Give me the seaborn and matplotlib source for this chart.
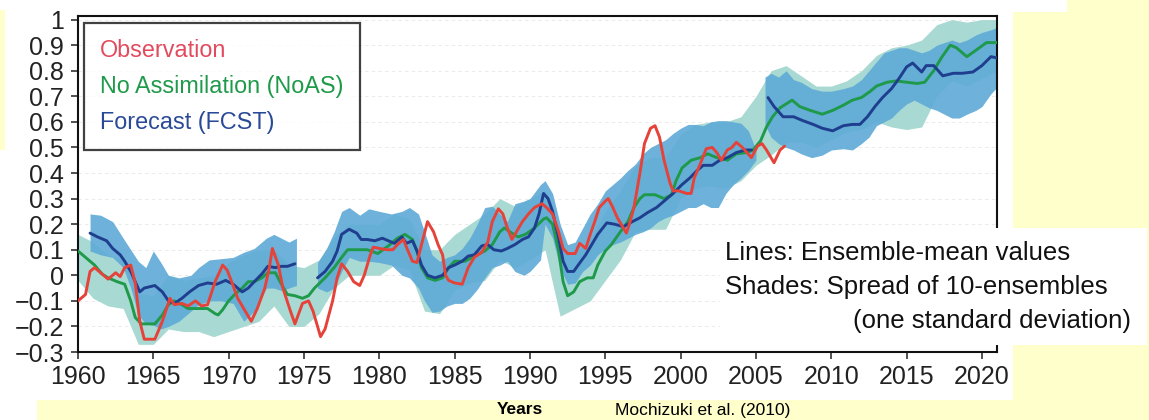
import numpy as np
import pandas as pd
import matplotlib
matplotlib.use("Agg")
import matplotlib.pyplot as plt
from matplotlib.patches import Rectangle
from matplotlib.lines import Line2D
import seaborn as sns

# ---------------- data ----------------
obs_years = [1960.0, 1960.5, 1960.8, 1961.1, 1961.6, 1962.0, 1962.5, 1962.8, 1963.1, 1963.5,
             1963.8, 1964.1, 1964.4, 1965.1, 1965.6, 1966.1, 1966.4, 1966.9, 1967.3, 1967.8,
             1968.2, 1968.6, 1969.1, 1969.6, 1969.9, 1970.2, 1970.6, 1971.1, 1971.5, 1971.9,
             1972.4, 1972.7, 1972.9, 1973.3, 1973.6, 1974.1, 1974.4, 1974.9, 1975.3, 1975.6,
             1976.1, 1976.4, 1976.9, 1977.2, 1977.5, 1977.9, 1978.3, 1978.7, 1979.0, 1979.4,
             1979.6, 1980.0, 1980.5, 1980.9, 1981.2, 1981.6, 1981.8, 1982.2, 1982.5, 1982.8,
             1983.2, 1983.6, 1983.9, 1984.2, 1984.4, 1984.6, 1985.0, 1985.5, 1985.9, 1986.3,
             1986.8, 1987.2, 1987.5, 1987.9, 1988.2, 1988.5, 1988.8, 1989.0, 1989.5, 1989.9,
             1990.3, 1990.8, 1991.1, 1991.5, 1991.9, 1992.2, 1992.5, 1993.0, 1993.3, 1993.7,
             1994.0, 1994.3, 1994.6, 1995.0, 1995.2, 1995.5, 1995.8, 1996.2, 1996.4, 1996.6,
             1996.9, 1997.3, 1997.6, 1998.0, 1998.3, 1998.6, 1998.9, 1999.3, 1999.5, 1999.9,
             2000.4, 2000.7, 2000.9, 2001.3, 2001.7, 2002.1, 2002.4, 2002.7, 2003.1, 2003.4,
             2003.7, 2004.1, 2004.4, 2004.7, 2005.1, 2005.4, 2005.7, 2006.2, 2006.6, 2006.9]
obs_vals = [-0.10, -0.075, 0.015, 0.03, 0.005, -0.015, 0.01, -0.005, 0.03, 0.04,
            -0.03, -0.18, -0.25, -0.25, -0.18, -0.09, -0.115, -0.11, -0.12, -0.10,
            -0.12, -0.115, -0.025, 0.04, 0.02, -0.025, -0.09, -0.14, -0.18, -0.13,
            -0.05, 0.03, 0.105, 0.04, -0.05, -0.14, -0.19, -0.11, -0.10, -0.14,
            -0.24, -0.21, -0.10, -0.01, 0.045, 0.015, -0.025, -0.04, 0.0, 0.08,
            0.11, 0.105, 0.10, 0.10, 0.12, 0.14, 0.11, 0.055, 0.05, 0.12,
            0.21, 0.17, 0.12, 0.08, 0.0, -0.02, -0.03, -0.035, 0.03, 0.07,
            0.09, 0.13, 0.21, 0.26, 0.24, 0.185, 0.14, 0.16, 0.21, 0.24,
            0.265, 0.28, 0.265, 0.24, 0.17, 0.105, 0.085, 0.085, 0.125, 0.105,
            0.16, 0.21, 0.265, 0.29, 0.30, 0.265, 0.225, 0.185, 0.165, 0.20,
            0.265, 0.40, 0.515, 0.575, 0.585, 0.54, 0.45, 0.36, 0.33, 0.33,
            0.32, 0.32, 0.38, 0.435, 0.495, 0.50, 0.48, 0.45, 0.49, 0.50,
            0.52, 0.50, 0.48, 0.46, 0.505, 0.515, 0.49, 0.44, 0.49, 0.505]

noas_years = [1960.0, 1960.5, 1961.1, 1961.6, 1962.0, 1962.6, 1963.1, 1963.5, 1963.8, 1964.2,
              1964.7, 1965.1, 1965.6, 1966.0, 1966.4, 1966.9, 1967.3, 1967.8, 1968.2, 1968.6,
              1969.1, 1969.3, 1969.6, 1970.0, 1970.4, 1970.9, 1971.3, 1971.7, 1972.2, 1972.6,
              1973.1, 1973.5, 1973.9, 1974.4, 1974.9, 1975.3, 1975.7, 1976.4, 1977.0, 1977.5,
              1977.9, 1978.6, 1979.2, 1979.9, 1980.6, 1981.2, 1981.7, 1982.2, 1982.5, 1982.8,
              1983.2, 1983.7, 1984.2, 1984.6, 1985.0, 1985.7, 1986.3, 1987.0, 1987.5, 1988.0,
              1988.3, 1988.8, 1989.2, 1989.7, 1990.3, 1990.9, 1991.1, 1991.5, 1991.9, 1992.2,
              1992.5, 1992.9, 1993.3, 1993.8, 1994.2, 1994.5, 1995.0, 1995.4, 1996.0, 1996.5,
              1996.9, 1997.3, 1997.6, 1998.3, 1998.9, 1999.4, 1999.7, 2000.1, 2000.7, 2001.3,
              2001.8, 2002.4, 2003.1, 2003.7, 2004.4, 2004.8, 2005.3, 2005.7, 2006.1, 2006.6,
              2007.4, 2007.9, 2008.6, 2009.4, 2010.1, 2010.8, 2011.4, 2012.0, 2012.6, 2013.0,
              2013.7, 2014.3, 2015.0, 2015.7, 2016.2, 2016.8, 2017.3, 2017.9, 2018.3, 2019.0,
              2019.6, 2020.3, 2021.0]
noas_vals = [0.095, 0.07, 0.04, 0.005, -0.01, -0.025, -0.035, -0.10, -0.165, -0.19,
             -0.19, -0.19, -0.155, -0.115, -0.10, -0.115, -0.13, -0.13, -0.13, -0.13,
             -0.15, -0.155, -0.135, -0.10, -0.075, -0.05, -0.025, -0.025, -0.01, 0.01,
             0.01, -0.035, -0.075, -0.08, -0.09, -0.08, -0.05, -0.01, 0.03, 0.07,
             0.10, 0.10, 0.10, 0.085, 0.115, 0.145, 0.16, 0.14, 0.095, 0.03,
             -0.01, -0.02, -0.01, 0.03, 0.055, 0.055, 0.075, 0.095, 0.12, 0.17,
             0.185, 0.165, 0.15, 0.16, 0.185, 0.22, 0.225, 0.20, 0.095, -0.025,
             -0.08, -0.065, -0.025, -0.01, -0.01, 0.04, 0.095, 0.12, 0.17, 0.21,
             0.265, 0.30, 0.315, 0.315, 0.30, 0.315, 0.37, 0.42, 0.45, 0.46,
             0.475, 0.46, 0.45, 0.475, 0.48, 0.49, 0.525, 0.58, 0.62, 0.655,
             0.685, 0.66, 0.645, 0.63, 0.645, 0.665, 0.685, 0.695, 0.72, 0.74,
             0.755, 0.76, 0.755, 0.75, 0.755, 0.80, 0.85, 0.90, 0.89, 0.855,
             0.88, 0.91, 0.91]

# Forecast (FCST) comes in three separate segments
fcst1_years = [1960.8, 1961.3, 1961.9, 1962.3, 1962.8, 1963.1, 1963.5, 1963.8, 1964.1, 1964.4,
               1965.1, 1965.6, 1966.0, 1966.4, 1966.9, 1967.4, 1968.0, 1968.6, 1969.2, 1969.8,
               1970.3, 1970.9, 1971.3, 1971.7, 1972.2, 1972.6, 1973.1, 1973.5, 1973.9, 1974.4]
fcst1_vals = [0.165, 0.15, 0.135, 0.105, 0.08, 0.055, 0.015, -0.025, -0.065, -0.05,
              -0.04, -0.065, -0.10, -0.11, -0.09, -0.065, -0.04, -0.03, -0.035, -0.02,
              -0.035, -0.065, -0.05, -0.025, 0.005, 0.035, 0.03, 0.035, 0.035, 0.045]
fcst2_years = [1975.9, 1976.4, 1976.9, 1977.2, 1977.5, 1978.0, 1978.5, 1978.8, 1979.2, 1979.7,
               1980.2, 1980.6, 1981.0, 1981.5, 1981.8, 1982.2, 1982.5, 1982.8, 1983.2, 1983.7,
               1984.2, 1984.6, 1985.0, 1985.5, 1985.9, 1986.3, 1986.8, 1987.2, 1987.6, 1988.1,
               1988.5, 1989.0, 1989.5, 1989.9, 1990.3, 1990.6, 1990.9, 1991.2, 1991.5, 1991.9,
               1992.2, 1992.5, 1992.9, 1993.2, 1993.7, 1994.1, 1994.5, 1995.1, 1995.6, 1996.2,
               1996.8, 1997.3, 1997.8, 1998.4, 1998.9, 1999.5, 2000.1, 2000.6, 2001.1, 2001.5,
               2002.1, 2002.6, 2003.1, 2003.7, 2004.3, 2004.7]
fcst2_vals = [-0.01, 0.015, 0.055, 0.095, 0.16, 0.18, 0.165, 0.14, 0.14, 0.135,
              0.145, 0.135, 0.125, 0.15, 0.125, 0.135, 0.095, 0.04, 0.0, -0.01,
              0.0, 0.03, 0.04, 0.055, 0.075, 0.08, 0.115, 0.12, 0.10, 0.095,
              0.105, 0.12, 0.14, 0.15, 0.185, 0.24, 0.32, 0.30, 0.25, 0.145,
              0.055, 0.015, 0.015, 0.04, 0.08, 0.12, 0.16, 0.205, 0.20, 0.19,
              0.21, 0.225, 0.245, 0.265, 0.29, 0.32, 0.355, 0.38, 0.41, 0.43,
              0.43, 0.45, 0.46, 0.48, 0.49, 0.49]
fcst3_years = [2005.8, 2006.2, 2006.8, 2007.5, 2008.1, 2008.8, 2009.4, 2010.1, 2010.8, 2011.4,
               2011.9, 2012.4, 2012.9, 2013.4, 2014.0, 2014.5, 2015.0, 2015.4, 2016.0, 2016.3,
               2016.8, 2017.1, 2017.4, 2018.1, 2018.7, 2019.4, 2020.0, 2020.6, 2021.0]
fcst3_vals = [0.695, 0.66, 0.62, 0.62, 0.605, 0.59, 0.575, 0.565, 0.585, 0.59,
              0.59, 0.62, 0.66, 0.695, 0.73, 0.77, 0.815, 0.83, 0.795, 0.82,
              0.82, 0.80, 0.78, 0.79, 0.79, 0.795, 0.82, 0.855, 0.85]

# FCST ensemble spread (one standard deviation band), per segment
sp1_years = [1960.8, 1961.5, 1962.3, 1963.0, 1963.5, 1964.0, 1964.5, 1965.0, 1965.5, 1966.0,
             1966.7, 1967.5, 1968.0, 1968.7, 1969.5, 1970.3, 1971.0, 1971.7, 1972.5, 1973.0,
             1973.5, 1974.0, 1974.5]
sp1_upper = [0.24, 0.235, 0.21, 0.145, 0.10, 0.055, 0.03, 0.095, 0.05, 0.0,
             -0.01, 0.0, 0.03, 0.06, 0.065, 0.07, 0.09, 0.105, 0.145, 0.16,
             0.145, 0.13, 0.145]
sp1_lower = [0.095, 0.08, 0.07, 0.03, -0.05, -0.155, -0.19, -0.195, -0.21, -0.20,
             -0.18, -0.14, -0.115, -0.10, -0.10, -0.11, -0.18, -0.14, -0.05, -0.05,
             -0.06, -0.05, -0.04]
sp2_years = [1975.9, 1976.5, 1977.0, 1977.5, 1978.0, 1978.7, 1979.3, 1980.0, 1980.8, 1981.5,
             1982.0, 1982.6, 1983.0, 1983.5, 1984.0, 1984.5, 1985.0, 1985.5, 1986.0, 1986.5,
             1987.0, 1987.5, 1988.0, 1988.5, 1989.0, 1989.6, 1990.0, 1990.7, 1991.0, 1991.5,
             1992.0, 1992.5, 1993.0, 1993.5, 1994.0, 1994.5, 1995.0, 1995.5, 1996.0, 1996.5,
             1997.0, 1997.5, 1998.0, 1998.5, 1999.0, 1999.5, 2000.0, 2000.5, 2001.0, 2001.5,
             2002.0, 2002.5, 2003.0, 2003.5, 2004.0, 2004.5, 2005.0]
sp2_upper = [0.05, 0.105, 0.17, 0.25, 0.265, 0.235, 0.26, 0.25, 0.24, 0.25,
             0.265, 0.24, 0.17, 0.08, 0.055, 0.07, 0.08, 0.105, 0.145, 0.20,
             0.265, 0.27, 0.24, 0.21, 0.28, 0.29, 0.30, 0.355, 0.37, 0.32,
             0.20, 0.12, 0.13, 0.185, 0.24, 0.28, 0.33, 0.355, 0.38, 0.41,
             0.435, 0.475, 0.50, 0.515, 0.53, 0.555, 0.575, 0.59, 0.59, 0.585,
             0.60, 0.605, 0.605, 0.60, 0.595, 0.565, 0.49]
sp2_lower = [-0.05, -0.065, -0.05, 0.015, 0.07, 0.055, 0.055, 0.05, 0.04, 0.0,
             -0.01, -0.05, -0.10, -0.145, -0.14, -0.12, -0.11, -0.11, -0.09, -0.055,
             -0.01, 0.03, 0.04, 0.055, 0.015, 0.0, 0.015, 0.06, 0.2, 0.145,
             0.03, -0.035, -0.03, 0.015, 0.04, 0.08, 0.105, 0.12, 0.13, 0.145,
             0.16, 0.17, 0.185, 0.21, 0.225, 0.235, 0.25, 0.265, 0.265, 0.28,
             0.265, 0.265, 0.32, 0.355, 0.38, 0.41, 0.45]
sp3_years = [2005.6, 2006.0, 2006.5, 2007.0, 2007.5, 2008.0, 2008.7, 2009.4, 2010.0, 2010.8,
             2011.4, 2012.0, 2012.5, 2013.0, 2013.5, 2014.0, 2014.5, 2015.0, 2015.5, 2016.0,
             2016.5, 2017.0, 2017.5, 2018.0, 2018.5, 2019.0, 2019.6, 2020.0, 2020.6, 2021.0]
sp3_upper = [0.775, 0.79, 0.775, 0.80, 0.765, 0.755, 0.73, 0.72, 0.72, 0.73,
             0.74, 0.765, 0.80, 0.835, 0.87, 0.88, 0.89, 0.89, 0.88, 0.87,
             0.88, 0.90, 0.91, 0.92, 0.91, 0.92, 0.94, 0.95, 0.96, 0.97]
sp3_lower = [0.59, 0.54, 0.515, 0.50, 0.49, 0.475, 0.46, 0.47, 0.49, 0.495,
             0.49, 0.515, 0.54, 0.585, 0.60, 0.615, 0.645, 0.67, 0.685, 0.67,
             0.655, 0.645, 0.63, 0.615, 0.615, 0.63, 0.645, 0.66, 0.71, 0.735]

# NoAS ensemble spread band
noas_sp_years = list(range(1960, 2022))
noas_sp_upper = [0.16, 0.13, 0.08, 0.06, -0.07, -0.08, 0.0, -0.02, -0.01, 0.0,
                 0.05, 0.08, 0.10, 0.10, 0.04, 0.03, 0.06, 0.15, 0.20, 0.20,
                 0.20, 0.24, 0.22, 0.10, 0.10, 0.16, 0.20, 0.24, 0.30, 0.27,
                 0.30, 0.33, 0.10, 0.09, 0.14, 0.25, 0.33, 0.43, 0.46, 0.46,
                 0.55, 0.59, 0.60, 0.60, 0.62, 0.70, 0.80, 0.82, 0.78, 0.74,
                 0.74, 0.76, 0.80, 0.86, 0.89, 0.90, 0.92, 0.98, 1.00, 0.99,
                 1.00, 1.00]
noas_sp_lower = [-0.02, -0.09, -0.12, -0.13, -0.27, -0.27, -0.21, -0.22, -0.22, -0.24,
                 -0.22, -0.20, -0.18, -0.12, -0.20, -0.20, -0.15, -0.05, 0.0, 0.0,
                 0.0, 0.04, 0.02, -0.14, -0.15, -0.06, -0.03, -0.02, 0.06, 0.03,
                 0.06, 0.10, -0.16, -0.13, -0.10, -0.02, 0.06, 0.17, 0.18, 0.18,
                 0.30, 0.34, 0.35, 0.34, 0.37, 0.43, 0.47, 0.52, 0.52, 0.50,
                 0.53, 0.56, 0.57, 0.60, 0.58, 0.57, 0.58, 0.70, 0.76, 0.74,
                 0.77, 0.80]

x_ticks = [1960, 1965, 1970, 1975, 1980, 1985, 1990, 1995, 2000, 2005, 2010, 2015, 2020]
y_ticks = [-0.3, -0.2, -0.1, 0.0, 0.1, 0.2, 0.3, 0.4, 0.5, 0.6, 0.7, 0.8, 0.9, 1.0]
y_ticklabels = ['\u22120.3', '\u22120.2', '\u22120.1', '0', '0.1', '0.2', '0.3', '0.4',
                '0.5', '0.6', '0.7', '0.8', '0.9', '1']
legend_labels = ['Observation', 'No Assimilation (NoAS)', 'Forecast (FCST)']
note_lines = ['Lines: Ensemble-mean values', 'Shades: Spread of 10-ensembles',
              '(one standard deviation)']

for a, b in [(obs_years, obs_vals), (noas_years, noas_vals), (fcst1_years, fcst1_vals),
             (fcst2_years, fcst2_vals), (fcst3_years, fcst3_vals)]:
    assert len(a) == len(b)
for a, b, c in [(sp1_years, sp1_upper, sp1_lower), (sp2_years, sp2_upper, sp2_lower),
                (sp3_years, sp3_upper, sp3_lower), (noas_sp_years, noas_sp_upper, noas_sp_lower)]:
    assert len(a) == len(b) == len(c)

# ---------------- style ----------------
sns.set_style("ticks")
plt.rcParams['font.family'] = ['Liberation Sans', 'DejaVu Sans']
plt.rcParams['axes.unicode_minus'] = True

RED = '#E5433A'
GREEN = '#1E9A4A'
BLUE = '#1F3F8E'
SHADE_BLUE = '#5EAAD7'
SHADE_TEAL = '#A9D9D3'
YELLOW = '#FFFFCC'

W, H = 1149, 420
fig = plt.figure(figsize=(W / 100, H / 100), dpi=100, facecolor='white')

def px_rect(x0, y0, x1, y1, color, z):
    fig.add_artist(Rectangle((x0 / W, 1 - y1 / H), (x1 - x0) / W, (y1 - y0) / H,
                             transform=fig.transFigure, facecolor=color,
                             edgecolor='none', zorder=z))

# slide background (yellow parts)
px_rect(1013, 12, W, H, YELLOW, -5)
px_rect(1067, 0, W, 12, YELLOW, -5)
px_rect(37, 400, 1013, H, YELLOW, -5)
px_rect(0, 10, 5, 150, YELLOW, -5)

ax = fig.add_axes([78 / W, 1 - 352 / H, (997 - 78) / W, (352 - 16) / H])
ax.set_facecolor('white')

# shades
ax.fill_between(noas_sp_years, noas_sp_lower, noas_sp_upper, color=SHADE_TEAL, lw=0, zorder=1)
for yy, up, lo in [(sp1_years, sp1_upper, sp1_lower), (sp2_years, sp2_upper, sp2_lower),
                   (sp3_years, sp3_upper, sp3_lower)]:
    ax.fill_between(yy, lo, up, color=SHADE_BLUE, alpha=0.9, lw=0, zorder=2)

# lines
lw = 2.1
sns.lineplot(x=noas_years, y=noas_vals, color=GREEN, lw=lw, ax=ax, zorder=3, legend=False)
fc = pd.DataFrame({
    'year': fcst1_years + fcst2_years + fcst3_years,
    'val': fcst1_vals + fcst2_vals + fcst3_vals,
    'seg': [1] * len(fcst1_years) + [2] * len(fcst2_years) + [3] * len(fcst3_years),
})
sns.lineplot(data=fc, x='year', y='val', units='seg', estimator=None, color=BLUE, lw=lw,
             ax=ax, zorder=4, legend=False)
sns.lineplot(x=obs_years, y=obs_vals, color=RED, lw=lw, ax=ax, zorder=5, legend=False)

# axes
ax.set_xlim(1960, 2021)
ax.set_ylim(-0.3, 1.014)
ax.set_xticks(x_ticks)
ax.set_xticklabels([str(t) for t in x_ticks])
ax.set_yticks(y_ticks)
ax.set_yticklabels(y_ticklabels)
ax.set_xlabel('')
ax.set_ylabel('')
ax.yaxis.grid(True, color='#e6e6e6', ls=(0, (4, 4)), lw=0.6, zorder=0)
ax.set_axisbelow(True)
ax.tick_params(axis='both', direction='out', length=5, width=1.1, color='#222222',
               labelsize=18, labelcolor='#222222')
ax.tick_params(axis='y', pad=5)
ax.tick_params(axis='x', pad=4)
for s in ax.spines.values():
    s.set_visible(True)
    s.set_color('#111111')
    s.set_linewidth(1.5)

# legend: text only, coloured
handles = [Line2D([], [], color=c, lw=0) for c in ('#E24A5E', GREEN, '#2A4A98')]
leg = ax.legend(handles, legend_labels, loc='upper left',
                bbox_to_anchor=((84 - 78) / 919, (352 - 23) / 336), borderaxespad=0,
                handlelength=0, handletextpad=0, fontsize=16.8, labelspacing=0.55,
                borderpad=0.7, fancybox=False, frameon=True, edgecolor='#111111',
                labelcolor=['#E24A5E', GREEN, '#2A4A98'])
leg.get_frame().set_linewidth(1.6)
leg.set_zorder(10)

# note box
px_rect(720, 228, 1147, 345, 'white', 8)
fig.text(725 / W, 1 - 253 / H, note_lines[0], fontsize=18.5, ha='left', va='center',
         color='#111111', zorder=9)
fig.text(725 / W, 1 - 287 / H, note_lines[1], fontsize=18.5, ha='left', va='center',
         color='#111111', zorder=9)
fig.text(1131 / W, 1 - 321 / H, note_lines[2], fontsize=18.5, ha='right', va='center',
         color='#111111', zorder=9)

# slide texts at the bottom (kept fully inside the picture)
fig.text(520 / W, 1 - 410 / H, 'Years', fontsize=12.5, fontweight='bold', ha='center',
         va='center', color='black', zorder=9)
fig.text(615 / W, 1 - 410 / H, 'Mochizuki et al. (2010)', fontsize=12.5, ha='left',
         va='center', color='black', zorder=9)

fig.savefig('out.png', dpi=100, facecolor=fig.get_facecolor())
